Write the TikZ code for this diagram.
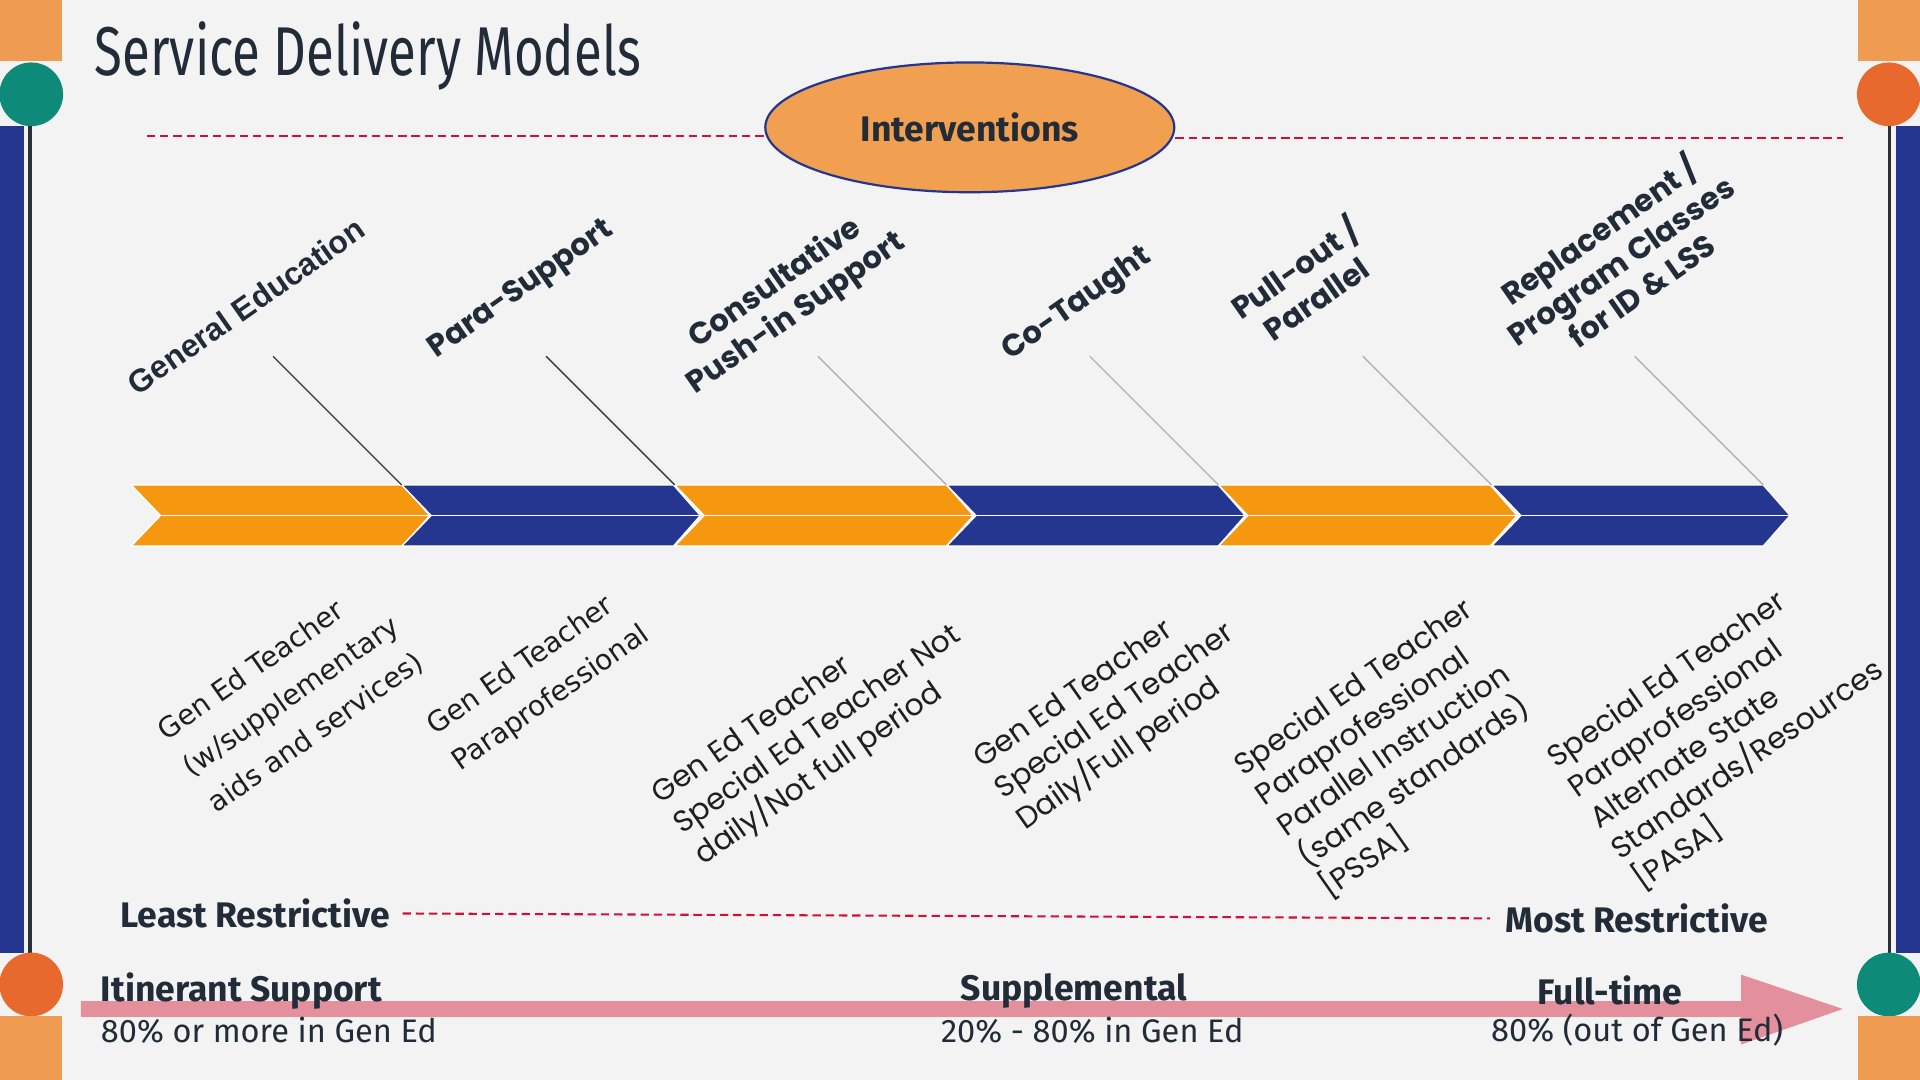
\documentclass[tikz,border=0pt]{standalone}
\usepackage{fontspec}
\usepackage{graphicx}
\usetikzlibrary{shapes.geometric}
\setmainfont{Fira Sans}
\newfontfamily\popf{Poppins}
\newfontfamily\dvsf{DejaVu Sans}
\newfontfamily\libf{Liberation Sans}
\definecolor{bgc}{HTML}{F3F3F3}
\definecolor{lorange}{HTML}{EF9B52}
\definecolor{tealc}{HTML}{0E8A78}
\definecolor{dorange}{HTML}{E8692D}
\definecolor{navyc}{HTML}{24368F}
\definecolor{chevo}{HTML}{F5970F}
\definecolor{darkc}{HTML}{222B38}
\definecolor{redc}{HTML}{D0103A}
\definecolor{pinkc}{HTML}{E3909C}
\definecolor{ellc}{HTML}{F0A050}
\definecolor{sidel}{HTML}{2B2F38}
\tikzset{
  toplab/.style={rotate=35, align=center, text=darkc, font=\popf\bfseries\fontsize{12.5}{15}\selectfont, inner sep=0pt},
  lowlab/.style={rotate=35, align=left, text=black!88, font=\popf\fontsize{12.2}{15.3}\selectfont, inner sep=0pt},
  lowlabv/.style={rotate=35, align=left, text=black!88, font=\dvsf\fontsize{11.5}{18}\selectfont, inner sep=0pt},
  boldlab/.style={text=darkc, font=\bfseries\fontsize{14.5}{16}\selectfont, inner sep=0pt},
  reglab/.style={text=darkc, font=\fontsize{13.3}{15}\selectfont, inner sep=0pt},
  reddash/.style={draw=redc, line width=0.85pt, dash pattern=on 3.4pt off 2pt},
  conn/.style={line width=0.55pt},
}
\begin{document}
\begin{tikzpicture}[x=0.5pt,y=-0.5pt]
\useasboundingbox (0,0) rectangle (1568,882);
\fill[bgc] (0,0) rectangle (1568,882);

% side decorations left
\fill[lorange] (0,0) rectangle (51,50);
\fill[tealc] (25.5,77) circle[radius=26];
\fill[navyc] (0,103) rectangle (20,778);
\draw[sidel, line width=1.4pt] (24.5,103) -- (24.5,778);
\fill[dorange] (25.5,804) circle[radius=26];
\fill[lorange] (0,830) rectangle (51,882);
% side decorations right
\fill[lorange] (1517,0) rectangle (1568,50);
\fill[dorange] (1542.5,77) circle[radius=26];
\fill[navyc] (1548,103) rectangle (1568,778);
\draw[sidel, line width=1.4pt] (1543,103) -- (1543,778);
\fill[tealc] (1542.5,804) circle[radius=26];
\fill[lorange] (1517,830) rectangle (1568,882);

% title
\node[anchor=base west, inner sep=0pt, text=darkc] (title) at (77,62)
  {\resizebox{223pt}{22pt}{\fontsize{30}{32}\selectfont Service Delivery Models}};

% interventions ellipse and dashed line
\node[ellipse, fill=ellc, draw=navyc, line width=0.9pt, minimum width=167pt, minimum height=53pt,
      text=darkc, font=\bfseries\fontsize{14.5}{16}\selectfont] (intv) at (792,104) {Interventions};
\coordinate (dl) at (120,111);
\coordinate (dr) at (1505,113);
\draw[reddash] (dl) -- (dl -| intv.west);
\draw[reddash] (dr -| intv.east) -- (dr);

% chevrons
\foreach \s/\c in {107/chevo,328/navyc,551/chevo,773/navyc,995/chevo,1218/navyc}
  \filldraw[fill=\c, draw=white, line width=0.6pt]
    (\s,396) -- ++(222,0) -- ++(22,25) -- ++(-22,25) -- ++(-222,0) -- ++(24,-25) -- cycle;
\draw[white, line width=0.8pt] (131,421) -- (1462,421);

% connectors
\foreach \i/\xa/\col in {1/223/black!78,2/446/black!78,3/668/black!30,4/890/black!30,5/1113/black!30,6/1335/black!30}{
  \coordinate (t\i) at (\xa,291);
  \coordinate (j\i) at (\xa+105,396);
  \draw[conn, draw=\col] (t\i) -- (j\i);
}

% upper labels
\node[toplab, font=\libf\bfseries\fontsize{13}{15}\selectfont] (u1) at (201,250) {General Education};
\node[toplab] (u2) at (426,237) {Para-Support};
\node[toplab] (u3) at (642,244) {Consultative\\Push-in Support};
\node[toplab] (u4) at (880,249) {Co-Taught};
\node[toplab] (u5) at (1065,230) {Pull-out /\\Parallel};
\node[toplab] (u6) at (1322,211) {Replacement /\\Program Classes\\for ID \& LSS};

% lower labels
\node[lowlabv] (l1) at (238,569) {Gen Ed Teacher\\(w/supplementary\\aids and services)};
\node[lowlabv] (l2) at (440,556) {Gen Ed Teacher\\Paraprofessional};
\node[lowlab] (l3) at (668,597) {Gen Ed Teacher\\Special Ed Teacher Not\\daily/Not full period};
\node[lowlab] (l4) at (911,582) {Gen Ed Teacher\\Special Ed Teacher\\Daily/Full period};
\node[lowlab] (l5) at (1141,612) {Special Ed Teacher\\Paraprofessional\\Parallel Instruction\\(same standards)\\{}[PSSA]};
\node[lowlab] (l6) at (1410,596) {Special Ed Teacher\\Paraprofessional\\Alternate State\\Standards/Resources\\{}[PASA]};

% restrictiveness line
\node[boldlab, anchor=west] (least) at (98,746) {Least Restrictive};
\node[boldlab, anchor=west] (most) at (1229,750) {Most Restrictive};
\draw[reddash] ([xshift=5pt]least.east) -- ([xshift=-6pt]most.west);

% pink arrow
\coordinate (as) at (66,824);
\coordinate (ae) at (1505,824);
\fill[pinkc] (as) ++(0,-6.5) -- (1422,817.5) -- (1422,796) -- (ae) -- (1422,853) -- (1422,830.5) -- (66,830.5) -- cycle;

% bottom labels
\node[boldlab, anchor=west] (itin) at (82,809) {Itinerant Support};
\node[reglab, anchor=west] (itinp) at (82,841) {80\% or more in Gen Ed};
\node[boldlab] (supp) at (877,809) {Supplemental};
\node[reglab] (suppp) at (892,841) {20\% - 80\% in Gen Ed};
\node[boldlab] (full) at (1315,809) {Full-time};
\node[reglab] (fullp) at (1337,841) {80\% (out of Gen Ed)};
\end{tikzpicture}
\end{document}
